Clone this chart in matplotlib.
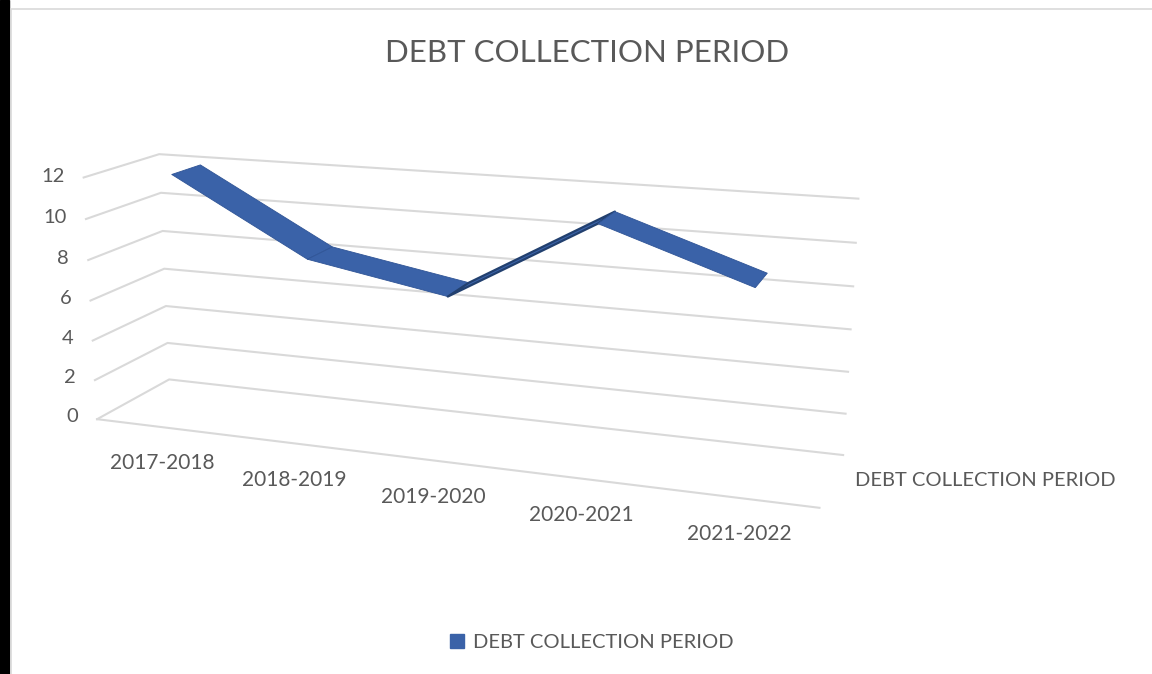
import matplotlib
matplotlib.use('Agg')
import matplotlib.pyplot as plt
import numpy as np
from matplotlib.patches import Rectangle
from matplotlib.lines import Line2D
from mpl_toolkits.mplot3d import proj3d

categories = ['2017-2018', '2018-2019', '2019-2020', '2020-2021', '2021-2022']
values = [12.0, 8.4, 7.2, 11.1, 8.8]
series_name = 'DEBT COLLECTION PERIOD'
y_ticks = [0, 2, 4, 6, 8, 10, 12]

plt.rcParams['font.family'] = ['Lato', 'DejaVu Sans']
txt = '#595959'
grid = '#d9d9d9'
blue = '#3A62A8'

W, H = 1152, 674
fig = plt.figure(figsize=(W / 100, H / 100), dpi=100)
# black strip on the left edge of the screenshot + light chart border
fig.patches.append(Rectangle((0, 0), 9 / W, 1, transform=fig.transFigure, color='black'))
fig.patches.append(Rectangle((11 / W, -0.01), 1, 1 - 9 / H + 0.01, transform=fig.transFigure,
                             fill=False, ec=grid, lw=1.2))

# square 3d axes centred on the plot box
S, cx, cy = 1000, 445, H - 328
ax = fig.add_axes([(cx - S / 2) / W, (cy - S / 2) / H, S / W, S / H], projection='3d')
ax.set_proj_type('persp', focal_length=0.32)
ax.view_init(elev=14.7, azim=-70)
ax.set_box_aspect((5.5, 1.12, 1.88), zoom=0.786)
ax.set_xlim(0, 5)
ax.set_ylim(0, 1)
ax.set_zlim(0, 12)
ax.set_axis_off()
ax.computed_zorder = False
ax.patch.set_visible(False)

# walls: left side segments + back wall lines
for t in y_ticks:
    ax.plot([0, 0, 5], [0, 1, 1], [t, t, t], color=grid, lw=1.5, zorder=1, clip_on=False)
ax.plot([0, 5], [0, 0], [0, 0], color=grid, lw=1.5, zorder=1, clip_on=False)

# the ribbon
x = np.arange(len(categories)) + 0.5
X = np.vstack([x, x])
Y = np.vstack([np.full(len(x), 0.3), np.full(len(x), 0.7)])
Z = np.vstack([values, values])
surf = ax.plot_surface(X, Y, Z, color=blue, shade=False, linewidth=0.6,
                       antialiased=True, zorder=3)
# rising pieces are seen almost edge-on: darker edge
rising = np.diff(values) > 0
surf.set_edgecolor(['#22406f' if r else '#2f5496' for r in rising])
surf.set_linewidth([1.6 if r else 0.6 for r in rising])
surf.set_clip_on(False)

fig.canvas.draw()
M = ax.get_proj()
to_fig = fig.transFigure.inverted()


def proj(x3, y3, z3, dx=0, dy=0):
    xs, ys, _ = proj3d.proj_transform(x3, y3, z3, M)
    px, py = ax.transData.transform((xs, ys))
    return to_fig.transform((px + dx, py + dy))


for t in y_ticks:
    fx, fy = proj(-0.15, 0, t)
    fig.text(fx, fy, str(t), ha='right', va='center', fontsize=14.5, color=txt)
for xi, c in zip(x, categories):
    fx, fy = proj(xi, 0, 0, dx=2, dy=-36.5)
    fig.text(fx, fy, c, ha='center', va='center', fontsize=15, color=txt)
fx, fy = proj(5.14, 0.5, 0.1)
fig.text(fx, fy, series_name, ha='left', va='center', fontsize=14.5, color=txt)

fig.text(587 / W, 1 - 53 / H, 'DEBT COLLECTION PERIOD', ha='center', va='center',
         fontsize=22.5, color=txt)
h = Line2D([], [], marker='s', ls='none', color=blue, markersize=10)
fig.legend([h], [series_name], loc='center', bbox_to_anchor=(591 / W, 1 - 642 / H),
           frameon=False, fontsize=14.5, labelcolor=txt, handlelength=0.8, handletextpad=0.4)

fig.savefig('out.png', dpi=100)
